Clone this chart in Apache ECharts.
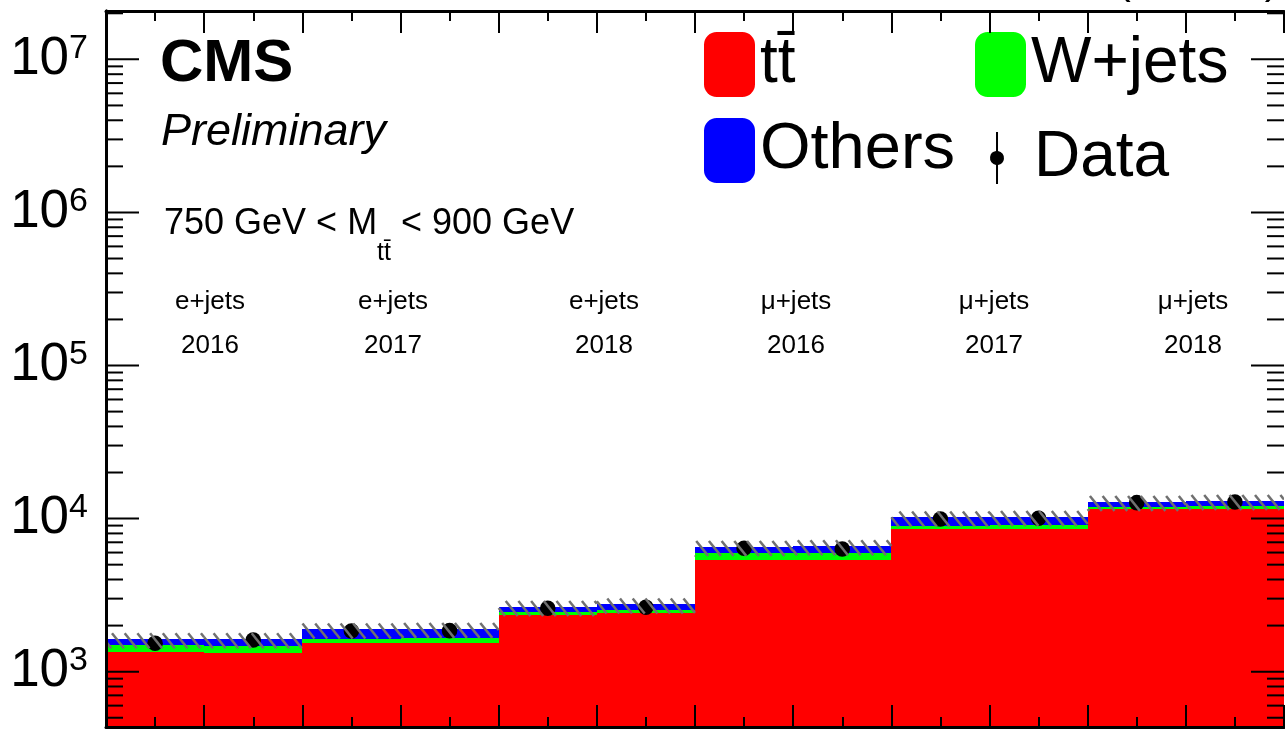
<!DOCTYPE html>
<html><head><meta charset="utf-8">
<script src="https://cdn.jsdelivr.net/npm/echarts@6/dist/echarts.min.js"></script>
<style>html,body{margin:0;padding:0;background:#fff}#c{width:1285px;height:729px}</style>
</head><body><div id="c"></div>
<script>
// ---- data ----
const groupChannels = ['e+jets', 'e+jets', 'e+jets', 'μ+jets', 'μ+jets', 'μ+jets'];
const groupYears = ['2016', '2017', '2018', '2016', '2017', '2018'];
const ttbar  = [1351, 1331, 1533, 1547, 2347, 2408, 5368, 5368, 8519, 8596, 11510, 11614];
const wjets  = [143, 148, 103, 106, 97, 122, 569, 569, 435, 494, 460, 480];
const others = [142, 157, 256, 257, 215, 227, 620, 691, 1251, 1207, 933, 1006];
const dataObs = [1533, 1611, 1845, 1853, 2596, 2635, 6402, 6334, 9947, 10053, 12711, 12847];
const uncUp = [0.09, 0.09, 0.09, 0.09, 0.09, 0.09, 0.09, 0.09, 0.09, 0.09, 0.09, 0.09];
const uncDn = [0.13, 0.13, 0.13, 0.13, 0.13, 0.13, 0.13, 0.13, 0.13, 0.13, 0.13, 0.13];
const yMin = 435, yMax = 2.07e7;

const FONT = '"Liberation Sans", Arial, Helvetica, sans-serif';
const nBins = ttbar.length;
const TT = 't' + 't\u0304';

const chart = echarts.init(document.getElementById('c'));

function layerData(lowerFn, upperFn) {
  const out = [];
  for (let i = 0; i < nBins; i++) out.push([i, lowerFn(i), upperFn(i)]);
  return out;
}
function layerRender(color) {
  return function (params, api) {
    const i = api.value(0), lo = api.value(1), hi = api.value(2);
    const pL = api.coord([i, hi]);
    const pR = api.coord([i + 1, hi]);
    const pB = api.coord([i, lo]);
    const x0 = Math.round(pL[0]), x1 = Math.round(pR[0]);
    const y0 = Math.round(pL[1]), y1 = Math.round(pB[1]);
    return { type: 'rect', shape: { x: x0, y: y0, width: x1 - x0, height: y1 - y0 },
      style: { fill: color } };
  };
}
const totals = ttbar.map((v, i) => v + wjets[i] + others[i]);

// log ticks: major at 10^n, minor at k x 10^n
const logTicks = [];
for (let e = 2; e <= 7; e++) for (let k = 1; k <= 9; k++) {
  const v = k * Math.pow(10, e);
  if (v > yMin && v < yMax) logTicks.push([0, v, k === 1 ? 33 : 17]);
}

const HATCH_SP = 12.7;
const xAxisCommon = {
  type: 'value', min: 0, max: nBins, interval: 1, z: 10,
  axisLine: { show: true, lineStyle: { color: '#000', width: 3 } },
  axisTick: { show: true, inside: true, length: 22, lineStyle: { color: '#000', width: 2 } },
  minorTick: { show: true, splitNumber: 2, length: 10, lineStyle: { color: '#000', width: 2 } },
  axisLabel: { show: false }, splitLine: { show: false }
};
const option = {
  animation: false,
  backgroundColor: '#fff',
  grid: { left: 106, right: 1, top: 11, bottom: 2 },
  xAxis: [
    Object.assign({ position: 'bottom' }, xAxisCommon),
    Object.assign({ position: 'top' }, xAxisCommon)
  ],
  yAxis: [
    { type: 'log', logBase: 10, min: yMin, max: yMax, position: 'left', z: 10,
      axisLine: { show: true, lineStyle: { color: '#000', width: 3 } },
      axisTick: { show: false },
      splitLine: { show: false },
      axisLabel: {
        margin: 18, showMinLabel: true, showMaxLabel: true,
        formatter: function (v) {
          const l = Math.log10(v), e = Math.round(l);
          if (Math.abs(l - e) > 1e-6) return '';
          return '{b|10}{s|' + e + '}';
        },
        rich: {
          b: { fontFamily: FONT, fontSize: 53, color: '#000', lineHeight: 56 },
          s: { fontFamily: FONT, fontSize: 34, color: '#000', verticalAlign: 'top', lineHeight: 36 }
        }
      } },
    { type: 'log', logBase: 10, min: yMin, max: yMax, position: 'right', z: 10,
      axisLine: { show: true, lineStyle: { color: '#000', width: 3 } },
      axisTick: { show: false },
      splitLine: { show: false }, axisLabel: { show: false } }
  ],
  legend: [
    { left: 704, top: 32, padding: 0, selectedMode: false, itemWidth: 51, itemHeight: 65,
      data: [{ name: TT, icon: 'roundRect' }],
      textStyle: { fontFamily: FONT, fontSize: 64, color: '#000' } },
    { left: 975, top: 32, padding: 0, selectedMode: false, itemWidth: 51, itemHeight: 65,
      data: [{ name: 'W+jets', icon: 'roundRect' }],
      textStyle: { fontFamily: FONT, fontSize: 64, color: '#000' } },
    { left: 704, top: 118, padding: 0, selectedMode: false, itemWidth: 51, itemHeight: 65,
      data: [{ name: 'Others', icon: 'roundRect' }],
      textStyle: { fontFamily: FONT, fontSize: 65, color: '#000' } },
    { left: 990, top: 126, padding: 0, selectedMode: false, itemWidth: 16, itemHeight: 52,
      data: [{ name: 'Data', icon: 'path://M7 0H9V19.07A7 7 0 0 1 9 32.93V52H7V32.93A7 7 0 0 1 7 19.07Z' }],
      textStyle: { fontFamily: FONT, fontSize: 64, color: '#000', padding: [0, 0, 0, 24] } }
  ],
  graphic: [
    { type: 'text', z: 100, style: { x: 160, y: 64, text: 'CMS', font: 'bold 60px ' + FONT, fill: '#000', align: 'left', verticalAlign: 'middle' } },
    { type: 'text', z: 100, style: { x: 161, y: 132, text: 'Preliminary', font: 'italic 45px ' + FONT, fill: '#000', align: 'left', verticalAlign: 'middle' } },
    { type: 'text', z: 100, style: { x: 1279, y: -19, text: '138 fb\u207B\u00B9 (13 TeV)', font: '43px ' + FONT, fill: '#000', align: 'right', verticalAlign: 'middle' } },
    { type: 'text', z: 100, style: { x: 164, y: 206, align: 'left', verticalAlign: 'top',
        text: '{a|750 GeV < M}{s|' + TT + '}{a| < 900 GeV}',
        rich: {
          a: { fontFamily: FONT, fontSize: 36, color: '#000', lineHeight: 36, verticalAlign: 'top' },
          s: { fontFamily: FONT, fontSize: 25, color: '#000', lineHeight: 60, verticalAlign: 'bottom' }
        } } }
  ],
  series: [
    { name: TT, type: 'custom', clip: true, z: 2, itemStyle: { color: '#ff0000' },
      encode: { x: 0, y: [1, 2] },
      data: layerData(() => yMin, i => ttbar[i]), renderItem: layerRender('#ff0000') },
    { name: 'W+jets', type: 'custom', clip: true, z: 2, itemStyle: { color: '#00ff00' },
      encode: { x: 0, y: [1, 2] },
      data: layerData(i => ttbar[i], i => ttbar[i] + wjets[i]), renderItem: layerRender('#00ff00') },
    { name: 'Others', type: 'custom', clip: true, z: 2, itemStyle: { color: '#0000ff' },
      encode: { x: 0, y: [1, 2] },
      data: layerData(i => ttbar[i] + wjets[i], i => totals[i]), renderItem: layerRender('#0000ff') },
    { name: 'Data', type: 'custom', clip: true, z: 3, itemStyle: { color: '#000' },
      encode: { x: 0, y: 1 },
      data: dataObs.map((v, i) => [i + 0.5, v]),
      renderItem: function (params, api) {
        const x = api.value(0), v = api.value(1), err = Math.sqrt(v);
        const p = api.coord([x, v]), a = api.coord([x, v + err]), b = api.coord([x, v - err]);
        return { type: 'group', children: [
          { type: 'line', shape: { x1: p[0], y1: a[1], x2: p[0], y2: b[1] }, style: { stroke: '#000', lineWidth: 2 } },
          { type: 'circle', shape: { cx: p[0], cy: p[1], r: 7.8 }, style: { fill: '#000' } }
        ] };
      } },
    { name: 'unc', type: 'custom', clip: true, z: 4, silent: true,
      encode: { x: 0, y: [1, 2] },
      data: totals.map((t, i) => [i, t * (1 - uncDn[i]), t * (1 + uncUp[i])]),
      renderItem: function (params, api) {
        const i = api.value(0), lo = api.value(1), hi = api.value(2);
        const cs = params.coordSys;
        const pT = api.coord([i, hi]), pB = api.coord([i + 1, lo]);
        const left = pT[0], right = pB[0], top = pT[1], bot = pB[1];
        const h = bot - top, dx = h * 0.8;
        const kids = [];
        const k0 = Math.floor((left - dx - cs.x) / HATCH_SP), k1 = Math.ceil((right - cs.x) / HATCH_SP);
        for (let k = k0; k <= k1; k++) {
          const xs = cs.x + 6 + k * HATCH_SP;
          let t0 = 0, t1 = 1;
          if (xs < left) t0 = (left - xs) / dx;
          if (xs + dx > right) t1 = (right - xs) / dx;
          if (t0 >= t1) continue;
          kids.push({ type: 'line', shape: { x1: xs + t0 * dx, y1: top + t0 * h, x2: xs + t1 * dx, y2: top + t1 * h },
            style: { stroke: '#707070', lineWidth: 2.5 } });
        }
        return { type: 'group', children: kids };
      } },
    { name: 'logTicks', type: 'custom', clip: true, z: 20, silent: true,
      encode: { x: 0, y: 1 },
      data: logTicks,
      renderItem: function (params, api) {
        const v = api.value(1), len = api.value(2);
        const p = api.coord([0, v]), q = api.coord([nBins, v]);
        return { type: 'group', children: [
          { type: 'line', shape: { x1: p[0], y1: p[1], x2: p[0] + len, y2: p[1] }, style: { stroke: '#000', lineWidth: 2 } },
          { type: 'line', shape: { x1: q[0] - len, y1: q[1], x2: q[0], y2: q[1] }, style: { stroke: '#000', lineWidth: 2 } }
        ] };
      } }
  ]
};

// group labels (channel / year) placed over each 2-bin group
const labelX = [210, 393, 604, 796, 994, 1193];
groupChannels.forEach((c, g) => {
  option.graphic.push({ type: 'text', z: 100, style: { x: labelX[g], y: 302, text: c, font: '26px ' + FONT, fill: '#000', align: 'center', verticalAlign: 'middle' } });
  option.graphic.push({ type: 'text', z: 100, style: { x: labelX[g], y: 346, text: groupYears[g], font: '26px ' + FONT, fill: '#000', align: 'center', verticalAlign: 'middle' } });
});

chart.setOption(option);
</script>
</body></html>
